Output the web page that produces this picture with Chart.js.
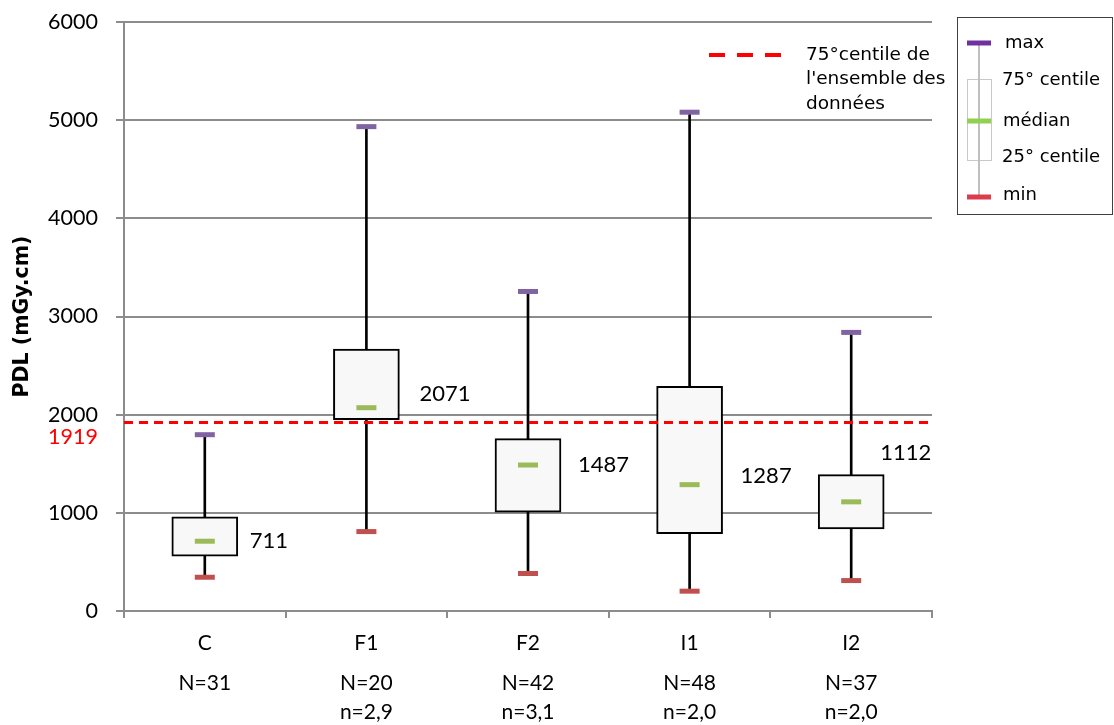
<!DOCTYPE html>
<html>
<head>
<meta charset="utf-8">
<script src="https://cdn.jsdelivr.net/npm/chart.js@4"></script>
<style>
  html, body { margin: 0; padding: 0; background: #ffffff; }
  #wrap { width: 1114px; height: 725px; }
</style>
</head>
<body>
<div id="wrap"><canvas id="chart" width="1114" height="725"></canvas></div>
<script>
// Groups and their sample sizes
const categories = ['C', 'F1', 'F2', 'I1', 'I2'];
const sampleLabels = [['N=31'], ['N=20', 'n=2,9'], ['N=42', 'n=3,1'], ['N=48', 'n=2,0'], ['N=37', 'n=2,0']];

// PDL distribution per group (mGy.cm)
const minValues    = [344, 809, 382, 202, 310];
const q1Values     = [558, 1949, 1006, 789, 837];
const medianValues = [711, 2071, 1487, 1287, 1112];
const q3Values     = [959, 2669, 1756, 2288, 1389];
const maxValues    = [1796, 4934, 3255, 5081, 2838];

// 75th percentile of the whole data set
const overallP75 = 1919;

// Value axis
const yMin = 0, yMax = 6000, yStep = 1000;

const tickFont = { family: 'Lato', size: 21.5 };
const GRID = '#8c8c8c';

// Placement of the median value labels (pixels, relative to category centre / median)
const labelDx = [45, 53, 50, 51, 29];
const labelDy = [0, -14, 0, -9, -49];

const overlay = {
  id: 'overlay',
  afterDraw(chart) {
    const ctx = chart.ctx;
    const xs = chart.scales.x, ys = chart.scales.y;
    ctx.save();

    // median value labels
    ctx.font = '22px Lato';
    ctx.fillStyle = '#000';
    ctx.textAlign = 'left';
    ctx.textBaseline = 'middle';
    medianValues.forEach((v, i) => {
      ctx.fillText(String(v), xs.getPixelForValue(i) + labelDx[i], ys.getPixelForValue(v) + labelDy[i]);
    });

    // reference value next to the axis
    ctx.font = '21.5px Lato';
    ctx.fillStyle = '#ff0000';
    ctx.textAlign = 'right';
    ctx.fillText(String(overallP75), 98, ys.getPixelForValue(overallP75) + 14);

    // key for the dashed line
    ctx.strokeStyle = '#ff0000';
    ctx.lineWidth = 4;
    ctx.setLineDash([16, 12]);
    ctx.beginPath();
    ctx.moveTo(709, 55);
    ctx.lineTo(781, 55);
    ctx.stroke();
    ctx.setLineDash([]);
    ctx.font = '18.5px "DejaVu Sans"';
    ctx.fillStyle = '#000';
    ctx.textAlign = 'left';
    ['75°centile de', "l'ensemble des", 'données'].forEach((t, k) => {
      ctx.fillText(t, 806, 55 + k * 24.5);
    });

    // box-plot key
    ctx.strokeStyle = '#404040';
    ctx.lineWidth = 1;
    ctx.strokeRect(957.5, 17.5, 155, 197);
    ctx.fillStyle = '#ffffff';
    ctx.fillRect(967, 79, 24, 81);
    ctx.strokeStyle = '#c8c8c8';
    ctx.lineWidth = 1;
    ctx.strokeRect(967.5, 79.5, 24, 81);
    ctx.strokeStyle = '#bfbfbf';
    ctx.lineWidth = 2;
    ctx.beginPath();
    ctx.moveTo(979, 43);
    ctx.lineTo(979, 197);
    ctx.stroke();
    [[43, '#7030a0'], [121, '#92d050'], [197, '#dc3c4c']].forEach(([y, c]) => {
      ctx.strokeStyle = c;
      ctx.lineWidth = 5;
      ctx.beginPath();
      ctx.moveTo(967, y);
      ctx.lineTo(991, y);
      ctx.stroke();
    });
    ctx.font = '18px "DejaVu Sans"';
    ctx.fillStyle = '#000';
    [['max', 1005, 43], ['75° centile', 1002, 80], ['médian', 1003, 121], ['25° centile', 1002, 157], ['min', 1003, 195]]
      .forEach(([t, x, y]) => ctx.fillText(t, x, y));

    ctx.restore();
  }
};

const markerSet = (label, values, color, order) => ({
  type: 'line',
  label,
  data: values,
  showLine: false,
  pointStyle: 'line',
  pointRadius: 10,
  pointBorderWidth: 5,
  borderColor: color,
  pointBorderColor: color,
  backgroundColor: color,
  order
});

new Chart(document.getElementById('chart'), {
  type: 'bar',
  data: {
    labels: categories,
    datasets: [
      {
        type: 'line',
        label: '75° centile de l\'ensemble des données',
        xAxisID: 'xl',
        data: [{ x: 0, y: overallP75 }, { x: 1, y: overallP75 }],
        borderColor: '#ff0000',
        borderWidth: 3,
        borderDash: [9, 6],
        pointRadius: 0,
        order: 0
      },
      markerSet('max', maxValues, '#8064a2', 1),
      markerSet('médian', medianValues, '#9bbb59', 1),
      markerSet('min', minValues, '#c0504d', 1),
      {
        label: 'boîte',
        data: categories.map((_, i) => [q1Values[i], q3Values[i]]),
        backgroundColor: '#f8f8f8',
        borderColor: '#000000',
        borderWidth: 2,
        borderSkipped: false,
        barThickness: 66,
        grouped: false,
        order: 2
      },
      {
        label: 'moustaches',
        data: categories.map((_, i) => [minValues[i], maxValues[i]]),
        backgroundColor: '#000000',
        borderWidth: 0,
        barThickness: 2,
        grouped: false,
        order: 3
      }
    ]
  },
  options: {
    responsive: false,
    animation: false,
    devicePixelRatio: 1,
    events: [],
    layout: { autoPadding: false, padding: { left: 0, right: 182, top: 22, bottom: 0 } },
    plugins: { legend: { display: false }, tooltip: { enabled: false } },
    scales: {
      x: {
        type: 'category',
        position: 'bottom',
        weight: 0,
        offset: true,
        grid: { offset: true, drawOnChartArea: false, tickLength: 7, color: GRID, lineWidth: 2 },
        border: { color: GRID, width: 2 },
        ticks: { font: { family: 'Lato', size: 21 }, color: '#000', padding: 13, maxRotation: 0 },
        afterFit: s => { s.height = 45; }
      },
      xN: {
        type: 'category',
        labels: sampleLabels,
        position: 'bottom',
        weight: 1,
        offset: true,
        grid: { display: false },
        border: { display: false },
        ticks: { font: { family: 'Lato', size: 21, lineHeight: 1.38 }, color: '#000', padding: 5, maxRotation: 0 },
        afterFit: s => { s.height = 69; }
      },
      xl: { type: 'linear', min: 0, max: 1, offset: false, display: false },
      y: {
        min: yMin,
        max: yMax,
        ticks: { stepSize: yStep, font: tickFont, color: '#000', padding: 18, callback: v => String(v) },
        grid: { color: GRID, lineWidth: 2, tickLength: 8 },
        border: { color: GRID, width: 2 },
        title: {
          display: true,
          text: 'PDL (mGy.cm)',
          color: '#000',
          font: { family: 'DejaVu Sans', size: 20.5, weight: 'bold' },
          padding: { top: 10, bottom: 0 }
        },
        afterFit: s => { s.width = 124; s.paddingTop = 0; s.paddingBottom = 0; }
      }
    }
  },
  plugins: [overlay]
});
</script>
</body>
</html>
